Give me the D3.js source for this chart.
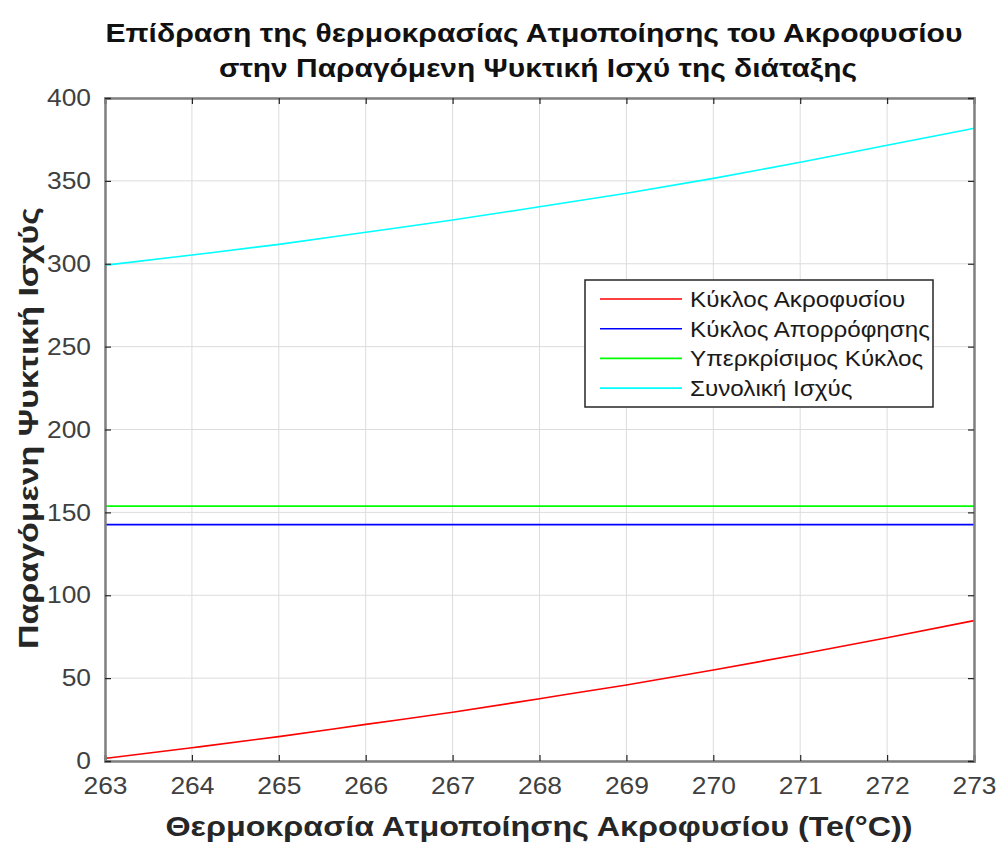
<!DOCTYPE html>
<html>
<head>
<meta charset="utf-8">
<script src="https://cdn.jsdelivr.net/npm/d3@7"></script>
<style>
  html, body { margin: 0; padding: 0; background: #fff; }
  svg { display: block; font-family: "Liberation Sans", Arial, Helvetica, sans-serif; }
</style>
</head>
<body>
<svg id="chart" width="999" height="843"></svg>
<script>
// Evaporator temperature (as in axis label)
const temperature = [263, 264, 265, 266, 267, 268, 269, 270, 271, 272, 273];

// Refrigeration power per cycle
const ejectorCycle     = [1.6, 8.0, 14.7, 22.1, 29.4, 37.6, 45.9, 54.9, 64.4, 74.4, 84.7];
const absorptionCycle  = [142.6, 142.6, 142.6, 142.6, 142.6, 142.6, 142.6, 142.6, 142.6, 142.6, 142.6];
const supercritCycle   = [153.8, 153.8, 153.8, 153.8, 153.8, 153.8, 153.8, 153.8, 153.8, 153.8, 153.8];
const totalPower       = [299.1, 305.3, 311.7, 319.0, 326.4, 334.4, 342.5, 351.5, 361.2, 371.5, 381.7];

const seriesNames  = ["Κύκλος Ακροφυσίου", "Κύκλος Απορρόφησης", "Υπερκρίσιμος Κύκλος", "Συνολική Ισχύς"];
const seriesColors = ["#ff0000", "#0000ff", "#00ff00", "#00ffff"];

const xTicks = [263, 264, 265, 266, 267, 268, 269, 270, 271, 272, 273];
const yTicks = [0, 50, 100, 150, 200, 250, 300, 350, 400];

const titleLines = [
  "Επίδραση της θερμοκρασίας Ατμοποίησης του Ακροφυσίου",
  "στην Παραγόμενη Ψυκτική Ισχύ της διάταξης"
];
const xLabel = "Θερμοκρασία Ατμοποίησης Ακροφυσίου (Te(°C))";
const yLabel = "Παραγόμενη Ψυκτική Ισχύς";

const series = [ejectorCycle, absorptionCycle, supercritCycle, totalPower].map((vals, i) => ({
  name: seriesNames[i],
  color: seriesColors[i],
  points: temperature.map((t, j) => ({ x: t, y: vals[j] }))
}));

const svg = d3.select("#chart");
const plot = { left: 105, top: 98, right: 974, bottom: 761 };

const x = d3.scaleLinear().domain([263, 273]).range([plot.left, plot.right]);
const y = d3.scaleLinear().domain([0, 400]).range([plot.bottom, plot.top]);

const axisColor = "#262626";
const tickTextColor = "#404040";
const stretch = 1.1; // slightly wide glyphs

// widen a text element horizontally by a factor
function widen(sel, f) {
  sel.each(function () {
    const w = this.getComputedTextLength();
    d3.select(this).attr("textLength", w * f).attr("lengthAdjust", "spacingAndGlyphs");
  });
}

// grid
const grid = svg.append("g");
grid.selectAll("line.gx").data(xTicks).join("line")
  .attr("x1", d => x(d)).attr("x2", d => x(d))
  .attr("y1", plot.top).attr("y2", plot.bottom)
  .attr("stroke", "#dcdcdc").attr("stroke-width", 1);
grid.selectAll("line.gy").data(yTicks).join("line")
  .attr("y1", d => y(d)).attr("y2", d => y(d))
  .attr("x1", plot.left).attr("x2", plot.right)
  .attr("stroke", "#dcdcdc").attr("stroke-width", 1);

// curves
const line = d3.line().x(d => x(d.x)).y(d => y(d.y)).curve(d3.curveMonotoneX);
svg.append("g").selectAll("path").data(series).join("path")
  .attr("d", d => line(d.points))
  .attr("fill", "none")
  .attr("stroke", d => d.color)
  .attr("stroke-width", 1.6);

// axes (ticks inward, box on all sides)
const tickLen = 6;
const xAxisB = d3.axisBottom(x).tickValues(xTicks).tickSize(-tickLen).tickPadding(16).tickFormat(d3.format("d"));
const xAxisT = d3.axisTop(x).tickValues(xTicks).tickSize(-tickLen).tickFormat("");
const yAxisL = d3.axisLeft(y).tickValues(yTicks).tickSize(-tickLen).tickPadding(14).tickFormat(d3.format("d"));
const yAxisR = d3.axisRight(y).tickValues(yTicks).tickSize(-tickLen).tickFormat("");

function styleAxis(g) {
  g.select(".domain").attr("stroke", "#808080").attr("stroke-width", 2.5);
  g.selectAll(".tick line").attr("stroke", axisColor).attr("stroke-width", 1.2);
  g.selectAll(".tick text").attr("fill", tickTextColor).style("font-size", "24px")
    .style("font-family", "'Liberation Sans', Arial, sans-serif");
}

svg.append("g").attr("transform", `translate(0,${plot.bottom})`).call(xAxisB).call(styleAxis)
  .selectAll(".tick text").call(widen, stretch);
svg.append("g").attr("transform", `translate(0,${plot.top})`).call(xAxisT).call(styleAxis);
svg.append("g").attr("transform", `translate(${plot.left},0)`).call(yAxisL).call(styleAxis)
  .selectAll(".tick text").call(widen, stretch);
svg.append("g").attr("transform", `translate(${plot.right},0)`).call(yAxisR).call(styleAxis);

// title
const titleWidths = [857, 638];
svg.append("g").selectAll("text").data(titleLines).join("text")
  .attr("x", (d, i) => [534, 538][i]).attr("y", (d, i) => 42 + i * 35)
  .attr("text-anchor", "middle")
  .attr("fill", "#111")
  .attr("textLength", (d, i) => titleWidths[i])
  .attr("lengthAdjust", "spacingAndGlyphs")
  .style("font-size", "26px").style("font-weight", "bold")
  .text(d => d);

// axis labels
svg.append("text")
  .attr("x", 539).attr("y", 836)
  .attr("text-anchor", "middle")
  .attr("fill", "#262626")
  .attr("textLength", 747).attr("lengthAdjust", "spacingAndGlyphs")
  .style("font-size", "27px").style("font-weight", "bold")
  .text(xLabel);

svg.append("text")
  .attr("transform", `translate(38,428) rotate(-90)`)
  .attr("text-anchor", "middle")
  .attr("fill", "#262626")
  .attr("textLength", 442).attr("lengthAdjust", "spacingAndGlyphs")
  .style("font-size", "28px").style("font-weight", "bold")
  .text(yLabel);

// legend
const lg = svg.append("g").attr("transform", "translate(585,280)");
lg.append("rect").attr("width", 348).attr("height", 127)
  .attr("fill", "#fff").attr("stroke", "#262626").attr("stroke-width", 1.5);
const rows = lg.selectAll("g.row").data(series).join("g")
  .attr("transform", (d, i) => `translate(0,${19 + i * 29.7})`);
rows.append("line").attr("x1", 15).attr("x2", 97).attr("y1", 0).attr("y2", 0)
  .attr("stroke", d => d.color).attr("stroke-width", 1.6);
rows.append("text").attr("x", 105).attr("y", 8)
  .attr("fill", "#1a1a1a")
  .style("font-size", "22px")
  .text(d => d.name)
  .call(widen, stretch);
</script>
</body>
</html>
